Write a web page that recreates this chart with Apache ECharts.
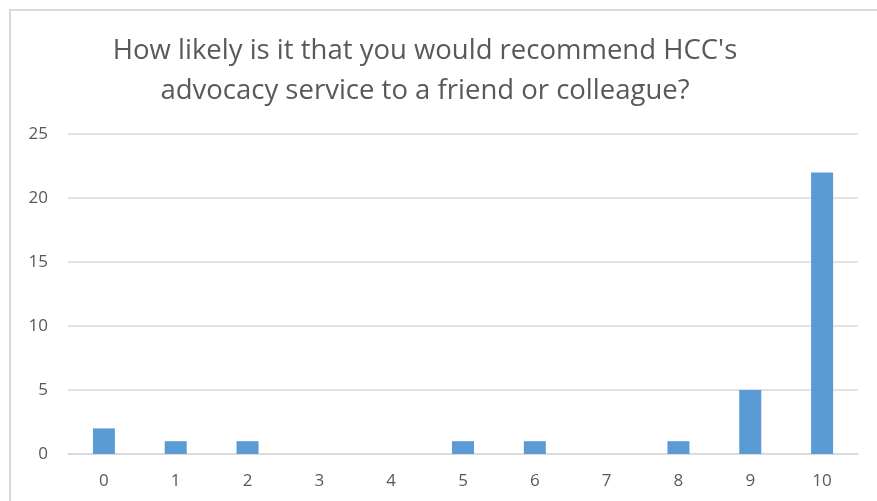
<!DOCTYPE html>
<html>
<head>
<meta charset="utf-8">
<script src="https://cdn.jsdelivr.net/npm/echarts@6/dist/echarts.min.js"></script>
<style>
  html, body { margin: 0; padding: 0; background: #fff; }
  #frame { position: absolute; left: 9px; top: 9px; width: 900px; height: 520px;
           border-left: 2px solid #d9d9d9; border-top: 2px solid #d9d9d9; box-sizing: border-box; }
  #chart { position: absolute; left: 0; top: 0; width: 877px; height: 501px; }
</style>
</head>
<body>
<div id="frame"></div>
<div id="chart"></div>
<script>
// Recommendation scores (0-10) and number of respondents giving each score
const scores = ['0', '1', '2', '3', '4', '5', '6', '7', '8', '9', '10'];
const respondents = [2, 1, 1, 0, 0, 1, 1, 0, 1, 5, 22];
const yTicks = { min: 0, max: 25, step: 5 };
const titleLines = [
  "How likely is it that you would recommend HCC's",
  'advocacy service to a friend or colleague?'
];

const chart = echarts.init(document.getElementById('chart'), null, { renderer: 'canvas' });
const font = 'Open Sans, Lato, sans-serif';

chart.setOption({
  animation: false,
  backgroundColor: 'transparent',
  title: {
    text: titleLines.join('\n'),
    left: 420,
    top: 26,
    textAlign: 'center',
    textStyle: {
      fontFamily: font,
      fontSize: 27.5,
      fontWeight: 'normal',
      color: '#595959',
      lineHeight: 40
    }
  },
  grid: { left: 68, right: 19, top: 134, bottom: 47, containLabel: false },
  xAxis: {
    type: 'category',
    data: scores,
    axisLine: { show: true, lineStyle: { color: '#d9d9d9', width: 1.5 } },
    axisTick: { show: false },
    axisLabel: { fontFamily: font, fontSize: 17, color: '#595959', margin: 19 }
  },
  yAxis: {
    type: 'value',
    min: yTicks.min,
    max: yTicks.max,
    interval: yTicks.step,
    axisLine: { show: false },
    axisTick: { show: false },
    axisLabel: { fontFamily: font, fontSize: 17, color: '#595959', margin: 20 },
    splitLine: { lineStyle: { color: '#d9d9d9', width: 1.5 } }
  },
  series: [{
    type: 'bar',
    data: respondents,
    barWidth: 22,
    itemStyle: { color: '#5b9bd5' }
  }]
});
</script>
</body>
</html>
